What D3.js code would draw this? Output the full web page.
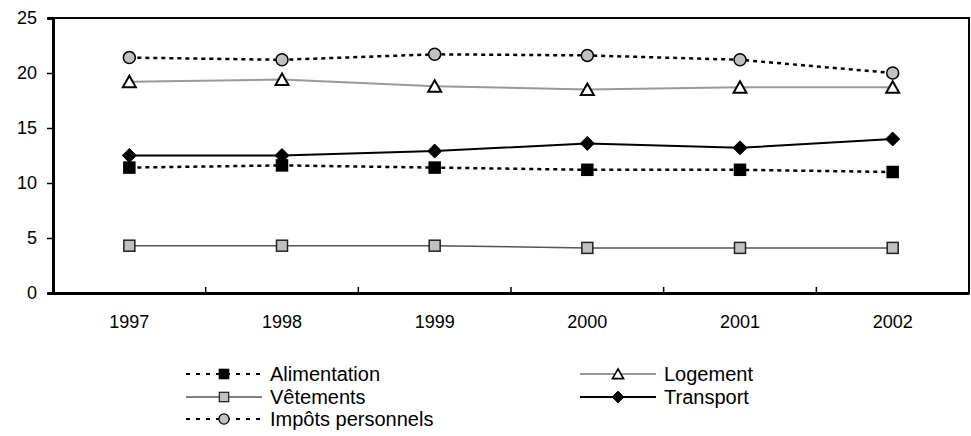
<!DOCTYPE html>
<html lang="fr">
<head>
<meta charset="utf-8">
<title>Dépenses des ménages</title>
<script src="https://d3js.org/d3.v7.min.js"></script>
<style>
body { margin: 0; background: #fff; }
svg text { font-family: "Liberation Sans", Arial, sans-serif; fill: #000; }
.axis path, .axis line { stroke: #000; }
</style>
</head>
<body>
<svg width="971" height="436"></svg>
<script>
// data
var years = ["1997", "1998", "1999", "2000", "2001", "2002"];
var alimentation = [11.4, 11.6, 11.4, 11.2, 11.2, 11.0];
var logement     = [19.2, 19.4, 18.8, 18.5, 18.7, 18.7];
var vetements    = [4.3, 4.3, 4.3, 4.1, 4.1, 4.1];
var transport    = [12.5, 12.5, 12.9, 13.6, 13.2, 14.0];
var impots       = [21.4, 21.2, 21.7, 21.6, 21.2, 20.0];
var yTicks = [0, 5, 10, 15, 20, 25];

var series = [
  {name: "Alimentation", values: alimentation, color: "#000", width: 2.5, dash: "4,4", marker: "square", fill: "#000", stroke: "#000", col: 0, row: 0},
  {name: "Logement", values: logement, color: "#999", width: 2, dash: null, marker: "triangle", fill: "#fff", stroke: "#000", col: 1, row: 0},
  {name: "Vêtements", values: vetements, color: "#555", width: 1.5, dash: null, marker: "square", fill: "#c0c0c0", stroke: "#222", col: 0, row: 1},
  {name: "Transport", values: transport, color: "#000", width: 2, dash: null, marker: "diamond", fill: "#000", stroke: "#000", col: 1, row: 1},
  {name: "Impôts personnels", values: impots, color: "#000", width: 2.5, dash: "4,4", marker: "circle", fill: "#c0c0c0", stroke: "#000", col: 0, row: 2}
];

var svg = d3.select("svg");
var plotLeft = 53, plotRight = 969, plotTop = 18, plotBottom = 293;

var x = d3.scaleBand().domain(years).range([plotLeft, plotRight]);
var y = d3.scaleLinear().domain([0, 25]).range([plotBottom, plotTop]);

// frame
svg.append("rect")
   .attr("x", plotLeft).attr("y", plotTop)
   .attr("width", plotRight - plotLeft).attr("height", plotBottom - plotTop)
   .attr("fill", "none").attr("stroke", "#000").attr("stroke-width", 2);

// y axis
var yAxis = svg.append("g")
   .attr("class", "axis")
   .attr("transform", "translate(" + plotLeft + ",0)")
   .call(d3.axisLeft(y).tickValues(yTicks).tickSize(6).tickPadding(10));
yAxis.select(".domain").attr("stroke-width", 3);
yAxis.selectAll("line").attr("stroke-width", 1.5);
yAxis.selectAll("text").style("font-size", "18px");

// x axis: labels under bands, ticks inward at band borders
var xAxis = svg.append("g")
   .attr("class", "axis")
   .attr("transform", "translate(0," + plotBottom + ")")
   .call(d3.axisBottom(x).tickSize(0).tickPadding(22));
xAxis.select(".domain").attr("stroke-width", 3);
xAxis.selectAll("text").style("font-size", "18px");

svg.append("g").selectAll("line")
   .data(years.slice(1))
   .enter().append("line")
   .attr("x1", function(d) { return x(d); })
   .attr("x2", function(d) { return x(d); })
   .attr("y1", plotBottom).attr("y2", plotBottom - 6)
   .attr("stroke", "#000").attr("stroke-width", 1.5);

function cx(i) { return x(years[i]) + x.bandwidth() / 2; }

var line = d3.line()
   .x(function(d, i) { return cx(i); })
   .y(function(d) { return y(d); });

function drawMarker(g, type, fill, stroke) {
  if (type === "square") {
    g.append("rect").attr("x", -5.5).attr("y", -5.5).attr("width", 11).attr("height", 11)
     .attr("fill", fill).attr("stroke", stroke).attr("stroke-width", 1.5);
  } else if (type === "triangle") {
    g.append("path").attr("d", "M0,-6L6.5,5.5L-6.5,5.5Z")
     .attr("fill", fill).attr("stroke", stroke).attr("stroke-width", 2);
  } else if (type === "diamond") {
    g.append("path").attr("d", "M0,-7L7,0L0,7L-7,0Z")
     .attr("fill", fill).attr("stroke", stroke).attr("stroke-width", 1);
  } else if (type === "circle") {
    g.append("circle").attr("r", 6)
     .attr("fill", fill).attr("stroke", stroke).attr("stroke-width", 1.5);
  }
}

// series lines and markers
series.forEach(function(s) {
  svg.append("path")
     .datum(s.values)
     .attr("d", line)
     .attr("fill", "none")
     .attr("stroke", s.color)
     .attr("stroke-width", s.width)
     .attr("stroke-dasharray", s.dash);
  s.values.forEach(function(v, i) {
    var g = svg.append("g").attr("transform", "translate(" + cx(i) + "," + y(v) + ")");
    drawMarker(g, s.marker, s.fill, s.stroke);
  });
});

// legend
var legX = [186, 580], rowY = [374, 397, 419], legLen = 76;
series.forEach(function(s) {
  var lx = legX[s.col], ly = rowY[s.row];
  var g = svg.append("g").attr("transform", "translate(" + lx + "," + ly + ")");
  g.append("line")
   .attr("x1", 0).attr("x2", legLen).attr("y1", 0).attr("y2", 0)
   .attr("stroke", s.color).attr("stroke-width", s.dash ? 2 : s.width)
   .attr("stroke-dasharray", s.dash ? "4,6" : null);
  var m = g.append("g").attr("transform", "translate(" + (legLen / 2) + ",0) scale(0.85)");
  drawMarker(m, s.marker, s.fill, s.stroke);
  g.append("text")
   .attr("x", legLen + 8).attr("y", 0).attr("dy", "0.36em")
   .style("font-size", "20px")
   .text(s.name);
});
</script>
</body>
</html>
